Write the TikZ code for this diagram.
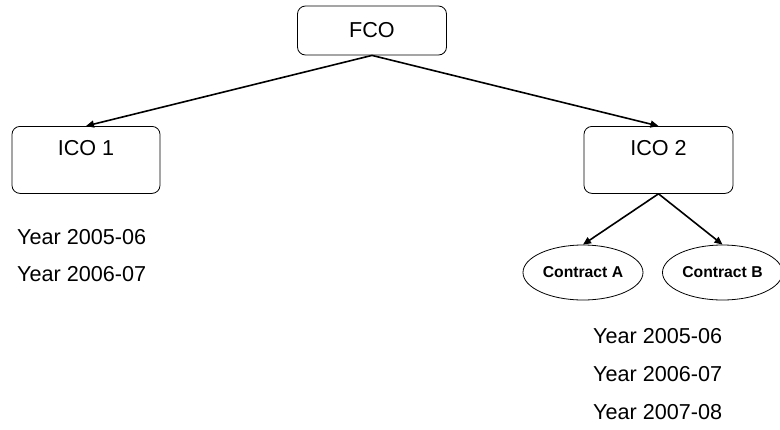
\documentclass[tikz,border=0pt]{standalone}
\usepackage{fontspec}
\setmainfont{Liberation Sans}
\usepackage{tikz}
\usetikzlibrary{shapes.geometric,arrows.meta}
\newcommand{\drawlink}{\draw[line width=1.6pt,-{Triangle[length=8pt,width=7pt]}]}
\tikzset{
  box/.style={draw,line width=0.8pt,rounded corners=8pt,inner sep=0pt,
    font=\fontsize{21.6pt}{26pt}\selectfont},
  oval/.style={draw,ellipse,line width=0.8pt,inner sep=0pt,minimum width=120pt,
    minimum height=55pt,font=\fontsize{15.7pt}{18pt}\selectfont\bfseries},
  yearlabel/.style={anchor=west,inner sep=0pt,font=\fontsize{21.6pt}{26pt}\selectfont}
}

\begin{document}
\begin{tikzpicture}[x=1pt,y=-1pt]
\useasboundingbox (0,0) rectangle (780,429);
\node[box,minimum width=149pt,minimum height=49pt] (fco) at (372,30.5) {FCO};
    \node[box,anchor=north,minimum width=148pt,text height=29.5pt,text depth=37.5pt] (ico1) at (86,126) {ICO 1};
    \node[box,anchor=north,minimum width=149pt,text height=29.5pt,text depth=37.5pt] (ico2) at (658.5,126) {ICO 2};
    \node[oval] (ctra) at (583,272.5) {Contract A};
    \node[oval] (ctrb) at (722.5,272.5) {Contract B};
    \drawlink (fco.south)--(ico1.north);
    \drawlink (fco.south)--(ico2.north);
    \drawlink (ico2.south)--(ctra.north);
    \drawlink (ico2.south)--(ctrb.north);
% years under ICO 1
    \node[yearlabel] (ya1) at (17,237) {Year 2005-06};
    \node[yearlabel] (ya2) at (17,274.5) {Year 2006-07};
% years under the contracts
    \node[yearlabel] (yb1) at (593,336) {Year 2005-06};
    \node[yearlabel] (yb2) at (593,374) {Year 2006-07};
    \node[yearlabel] (yb3) at (593,412) {Year 2007-08};
\end{tikzpicture}
\end{document}
